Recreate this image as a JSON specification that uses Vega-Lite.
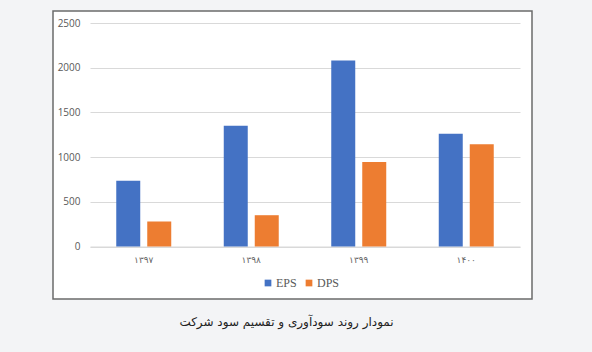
{
  "$schema": "https://vega.github.io/schema/vega-lite/v6.json",
  "width": 479,
  "height": 288,
  "autosize": {"type": "none"},
  "padding": {"left": 53, "top": 11, "right": 60, "bottom": 53},
  "background": "#f3f4f6",
  "view": {"fill": "white", "stroke": "#6b6b6b", "strokeWidth": 1.5},
  "title": {
    "text": "نمودار روند سودآوری و تقسیم سود شرکت",
    "orient": "bottom",
    "anchor": "middle",
    "font": "DejaVu Sans",
    "fontSize": 12,
    "fontWeight": "normal",
    "color": "#222222",
    "offset": 18,
    "dx": -6
  },
  "data": {
    "values": [
      {"year": "۱۳۹۷", "series": "EPS", "value": 735},
      {"year": "۱۳۹۷", "series": "DPS", "value": 280},
      {"year": "۱۳۹۸", "series": "EPS", "value": 1350},
      {"year": "۱۳۹۸", "series": "DPS", "value": 350},
      {"year": "۱۳۹۹", "series": "EPS", "value": 2080},
      {"year": "۱۳۹۹", "series": "DPS", "value": 945},
      {"year": "۱۴۰۰", "series": "EPS", "value": 1260},
      {"year": "۱۴۰۰", "series": "DPS", "value": 1145}
    ]
  },
  "mark": {"type": "bar"},
  "encoding": {
    "x": {
      "field": "year",
      "type": "nominal",
      "sort": null,
      "scale": {"range": [37, 467], "paddingInner": 0, "paddingOuter": 0},
      "axis": {
        "title": null,
        "offset": -52.5,
        "labelAngle": 0,
        "ticks": false,
        "domain": true,
        "domainColor": "#d9d9d9",
        "domainWidth": 1,
        "grid": false,
        "labelPadding": 9,
        "labelFont": "DejaVu Sans",
        "labelFontSize": 9,
        "labelColor": "#666666"
      }
    },
    "xOffset": {
      "field": "series",
      "sort": ["EPS", "DPS"],
      "scale": {"paddingInner": 0.226, "paddingOuter": 0.847}
    },
    "y": {
      "field": "value",
      "type": "quantitative",
      "scale": {"domain": [0, 2500], "range": [235.5, 12], "nice": false},
      "axis": {
        "title": null,
        "offset": -37,
        "values": [0, 500, 1000, 1500, 2000, 2500],
        "format": "d",
        "grid": true,
        "gridColor": "#d9d9d9",
        "domain": false,
        "ticks": false,
        "labelPadding": 10,
        "labelFont": "Open Sans",
        "labelFontSize": 10,
        "labelColor": "#595959"
      }
    },
    "color": {
      "field": "series",
      "type": "nominal",
      "sort": ["EPS", "DPS"],
      "scale": {"domain": ["EPS", "DPS"], "range": ["#4472c4", "#ed7d31"]},
      "legend": {
        "title": null,
        "orient": "none",
        "legendX": 209,
        "legendY": 266,
        "direction": "horizontal",
        "symbolType": "square",
        "symbolSize": 45,
        "symbolStrokeWidth": 0,
        "labelFont": "Liberation Serif",
        "labelFontSize": 12,
        "labelColor": "#595959",
        "columnPadding": 6,
        "labelOffset": 2
      }
    }
  }
}
